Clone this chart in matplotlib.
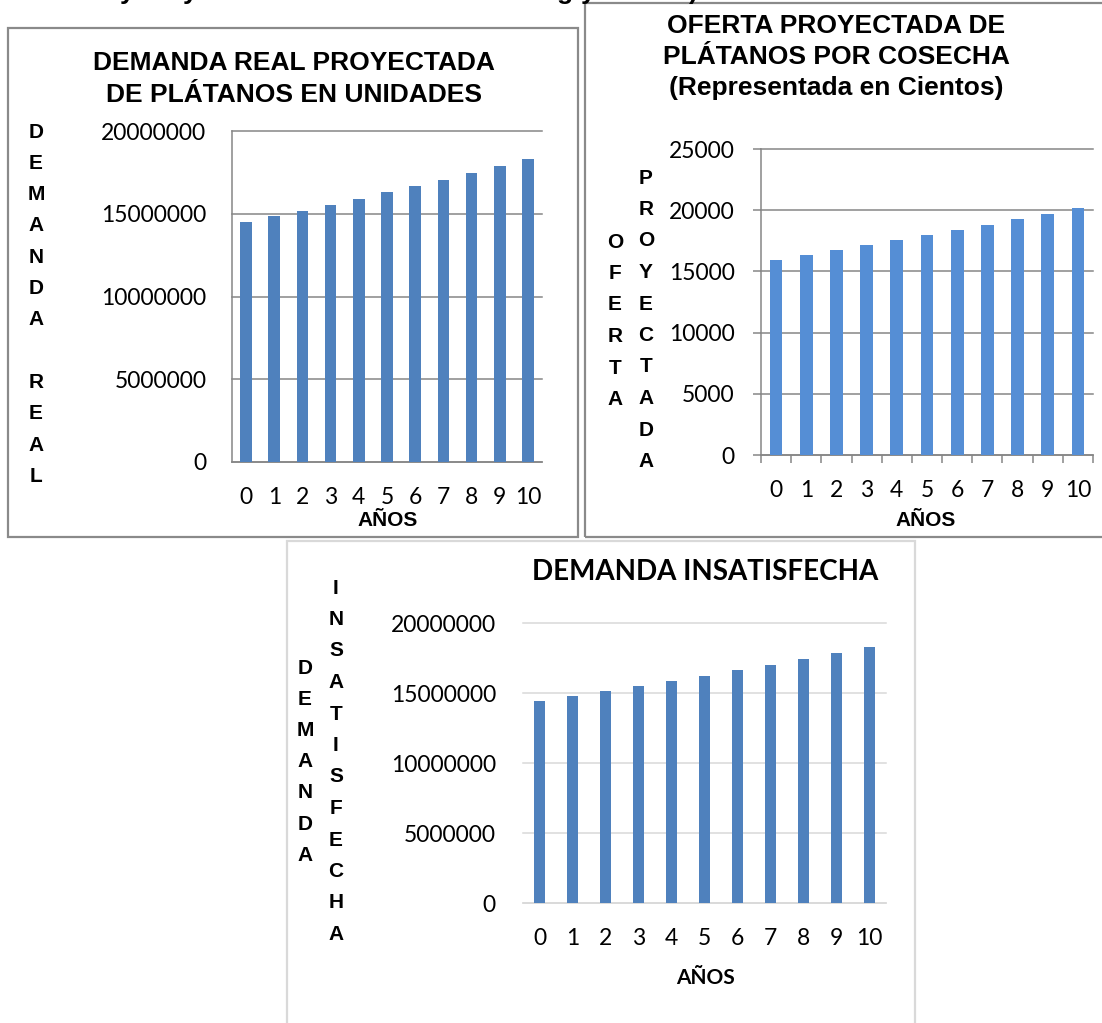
import matplotlib
matplotlib.use("Agg")
import matplotlib.pyplot as plt
from matplotlib.patches import Rectangle

# ---------------- data ----------------
years = [0, 1, 2, 3, 4, 5, 6, 7, 8, 9, 10]
year_labels = [str(y) for y in years]

demanda_real = [14480000, 14850000, 15190000, 15530000, 15890000, 16300000,
                16660000, 17060000, 17460000, 17870000, 18290000]
oferta_proyectada = [15950, 16340, 16730, 17130, 17525, 17950,
                     18370, 18820, 19245, 19690, 20150]
demanda_insatisfecha = [14460000, 14820000, 15160000, 15510000, 15870000, 16250000,
                        16640000, 17020000, 17450000, 17850000, 18280000]

ticks_demanda = [0, 5000000, 10000000, 15000000, 20000000]
ticks_oferta = [0, 5000, 10000, 15000, 20000, 25000]

title1 = "DEMANDA REAL PROYECTADA\nDE PLÁTANOS EN UNIDADES"
title2 = "OFERTA PROYECTADA DE\nPLÁTANOS POR COSECHA\n(Representada en Cientos)"
title3 = "DEMANDA INSATISFECHA"
xlabel = "AÑOS"
ylabel1 = "DEMANDA REAL"
ylabel2a = "OFERTA"
ylabel2b = "PROYECTADA"
ylabel3a = "DEMANDA"
ylabel3b = "INSATISFECHA"

# ---------------- layout helpers ----------------
W, H = 1102, 1023
fig = plt.figure(figsize=(W / 100, H / 100), dpi=100)
fig.patch.set_facecolor("white")

ARIAL = "Liberation Sans"
NUM = "Lato"


def rect(x0, x1, ytop, ybot):
    return [x0 / W, 1 - ybot / H, (x1 - x0) / W, (ybot - ytop) / H]


def ftext(x, y, s, **kw):
    return fig.text(x / W, 1 - y / H, s, ha="center", va="center", **kw)


def box(x0, y0, x1, y1, color, lw):
    fig.patches.append(Rectangle((x0 / W, 1 - y1 / H), (x1 - x0) / W, (y1 - y0) / H,
                                 transform=fig.transFigure, fill=False,
                                 edgecolor=color, linewidth=lw, zorder=0))


def vertical_letters(x, y0, step, word, size=15):
    for i, ch in enumerate(word):
        if ch.strip():
            ftext(x, y0 + i * step, ch, fontsize=size, fontweight="bold", family=ARIAL)


def style_axes(ax, grid_color, spine_color, lw=1.1):
    ax.set_xlim(-0.5, 10.5)
    ax.set_facecolor("none")
    ax.set_axisbelow(True)
    ax.yaxis.grid(True, color=grid_color, linewidth=lw)
    for gl in ax.get_ygridlines():
        gl.set_clip_on(False)
    for s in ["top", "right"]:
        ax.spines[s].set_visible(False)
    ax.spines["left"].set_color(spine_color)
    ax.spines["bottom"].set_color(spine_color)
    ax.spines["left"].set_linewidth(lw)
    ax.spines["bottom"].set_linewidth(lw)
    ax.set_xticks(years)
    ax.set_xticklabels(year_labels, family=NUM, fontsize=16.5)
    for lab in ax.get_yticklabels():
        lab.set_family(NUM)
        lab.set_fontsize(16.5)


# ---------------- boxes ----------------
box(8, 28, 578, 537, "#8a8a8a", 1.6)
box(585, 3, 1110, 537, "#8a8a8a", 1.6)
box(287, 541, 915, 1030, "#d9d9d9", 1.6)

# cropped heading fragments from the page above
for x, ch in [(127, "y"), (190, "y"), (565, "g"), (588, "y"), (693, ")")]:
    fig.text(x / W, 1 + 1.5 / H, ch, ha="center", va="baseline",
             fontsize=19, fontweight="bold", family=ARIAL)

# ---------------- chart 1 ----------------
ax1 = fig.add_axes(rect(232, 542, 131, 462))
ax1.bar(years, demanda_real, width=0.41, color="#4F81BD", zorder=3)
ax1.set_ylim(0, 20000000)
ax1.set_yticks(ticks_demanda)
ax1.set_yticklabels([str(t) for t in ticks_demanda])
style_axes(ax1, "#868686", "#868686")
ax1.tick_params(axis="y", length=0, pad=18.5)
ax1.tick_params(axis="x", length=0, pad=18)
ftext(294, 63, title1.split("\n")[0], fontsize=19, fontweight="bold", family=ARIAL)
ftext(294, 95, title1.split("\n")[1], fontsize=19, fontweight="bold", family=ARIAL)
ftext(388, 521, xlabel, fontsize=15, fontweight="bold", family=ARIAL)
vertical_letters(36, 132, 31.3, ylabel1)

# ---------------- chart 2 ----------------
ax2 = fig.add_axes(rect(761, 1093, 149, 455))
ax2.bar(years, oferta_proyectada, width=0.42, color="#558ED5", zorder=3)
ax2.set_ylim(0, 25000)
ax2.set_yticks(ticks_oferta)
ax2.set_yticklabels([str(t) for t in ticks_oferta])
style_axes(ax2, "#868686", "#868686")
ax2.set_xticks([y - 0.5 for y in years] + [10.5], minor=True)
ax2.tick_params(axis="x", which="minor", length=5.5, direction="out", color="#868686", width=1.1)
ax2.tick_params(axis="x", which="major", length=0, pad=18)
ax2.tick_params(axis="y", length=5.5, direction="out", color="#868686", width=1.1, pad=13.5)
for i, line in enumerate(title2.split("\n")):
    ftext(836, 26 + i * 31, line, fontsize=19, fontweight="bold", family=ARIAL)
ftext(926, 520, xlabel, fontsize=15, fontweight="bold", family=ARIAL)
vertical_letters(646, 178, 31.5, ylabel2b)
vertical_letters(615, 242, 31.5, ylabel2a)

# ---------------- chart 3 ----------------
ax3 = fig.add_axes(rect(523, 886, 623, 903))
ax3.bar(years, demanda_insatisfecha, width=0.33, color="#4F81BD", zorder=3)
ax3.set_ylim(0, 20000000)
ax3.set_yticks(ticks_demanda)
ax3.set_yticklabels([str(t) for t in ticks_demanda])
style_axes(ax3, "#d9d9d9", "#d9d9d9")
ax3.spines["left"].set_visible(False)
ax3.tick_params(axis="y", length=0, pad=19.5)
ax3.tick_params(axis="x", length=0, pad=18)
ftext(705, 572, title3, fontsize=20, fontweight="bold", family=NUM)
ftext(705, 978, xlabel, fontsize=15, fontweight="bold", family=NUM)
vertical_letters(305, 668, 31.2, ylabel3a)
vertical_letters(336, 588, 31.5, ylabel3b)

fig.savefig("out.png", dpi=100, facecolor="white")
